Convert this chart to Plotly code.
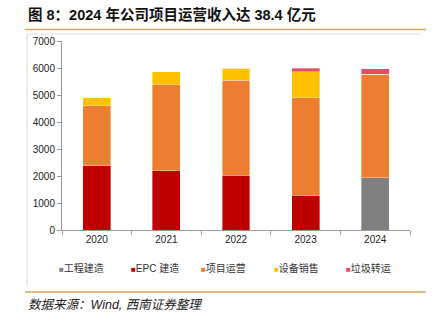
import plotly.graph_objects as go

# Revenue breakdown by business line (million yuan)
years = ["2020", "2021", "2022", "2023", "2024"]
engineering = [0, 0, 0, 0, 1930]          # 工程建造
epc = [2380, 2190, 2030, 1290, 0]          # EPC 建造
operation = [2230, 3190, 3510, 3600, 3840]  # 项目运营
equipment = [280, 480, 460, 970, 0]        # 设备销售
transfer = [0, 0, 0, 135, 210]             # 垃圾转运

series = [
    ("工程建造", engineering, "#808080"),
    ("EPC 建造", epc, "#C00000"),
    ("项目运营", operation, "#ED7D31"),
    ("设备销售", equipment, "#FFC000"),
    ("垃圾转运", transfer, "#E84C5F"),
]
legend_x = [57, 129, 199, 272, 344]

W, H = 432, 323
L, R, T, B = 62, 22, 41, 93
PW, PH = W - L - R, H - T - B


def px(x):
    return (x - L) / PW


def py(y):
    return (H - B - y) / PH


CJK = "Liberation Sans, Noto Sans CJK SC, sans-serif"

fig = go.Figure()
for name, vals, color in series:
    fig.add_trace(go.Bar(
        x=years, y=vals, name=name,
        marker=dict(color=color, line=dict(color="rgba(255,255,255,0.6)", width=0.6)),
        width=0.4,
    ))

annotations = [
    dict(text="<b>图 8：2024 年公司项目运营收入达 38.4 亿元</b>", xref="paper", yref="paper",
         x=px(26), y=py(15), xanchor="left", yanchor="middle", showarrow=False,
         font=dict(size=14.5, color="#111111", family=CJK)),
    dict(text="<i>数据来源：Wind, 西南证券整理</i>", xref="paper", yref="paper",
         x=px(26), y=py(305), xanchor="left", yanchor="middle", showarrow=False,
         font=dict(size=12.5, color="#222222", family=CJK)),
]
# hand-placed legend row
for (name, _, color), lx in zip(series, legend_x):
    annotations.append(dict(
        text=f"<span style='color:{color};font-size:8px'>■</span>{name}",
        xref="paper", yref="paper", x=px(lx), y=py(268), xanchor="left", yanchor="middle",
        showarrow=False, font=dict(size=10, color="#333333", family=CJK),
    ))

fig.update_layout(
    width=W, height=H,
    margin=dict(l=L, r=R, t=T, b=B, pad=0),
    barmode="stack",
    plot_bgcolor="white", paper_bgcolor="white",
    font=dict(family=CJK, size=10, color="#222222"),
    showlegend=False,
    xaxis=dict(
        type="category", showline=True, linecolor="#9a9a9a", linewidth=1,
        ticks="outside", ticklen=4, tickcolor="#9a9a9a", tickson="boundaries",
        tickfont=dict(size=10, color="#222222"), showgrid=False, fixedrange=True,
    ),
    yaxis=dict(
        range=[0, 7000], dtick=1000, showline=True, linecolor="#9a9a9a", linewidth=1,
        ticks="outside", ticklen=4, tickcolor="#9a9a9a", showgrid=False,
        tickfont=dict(size=10, color="#222222"), zeroline=False, fixedrange=True,
        tickformat="d",
    ),
    shapes=[
        # header rule
        dict(type="line", xref="paper", yref="paper", x0=px(25), x1=px(426),
             y0=py(29.5), y1=py(29.5), line=dict(color="#D9A35E", width=1.5)),
        # footer rule
        dict(type="line", xref="paper", yref="paper", x0=px(25), x1=px(426),
             y0=py(292), y1=py(292), line=dict(color="#D9A35E", width=1.5)),
        # chart frame
        dict(type="line", xref="paper", yref="paper", x0=px(27), x1=px(27),
             y0=py(34), y1=py(286), line=dict(color="#d4d4d4", width=1)),
        dict(type="line", xref="paper", yref="paper", x0=px(27), x1=px(421),
             y0=py(34), y1=py(34), line=dict(color="#e0e0e0", width=1)),
    ],
    annotations=annotations,
)

fig.write_html("out.html")
